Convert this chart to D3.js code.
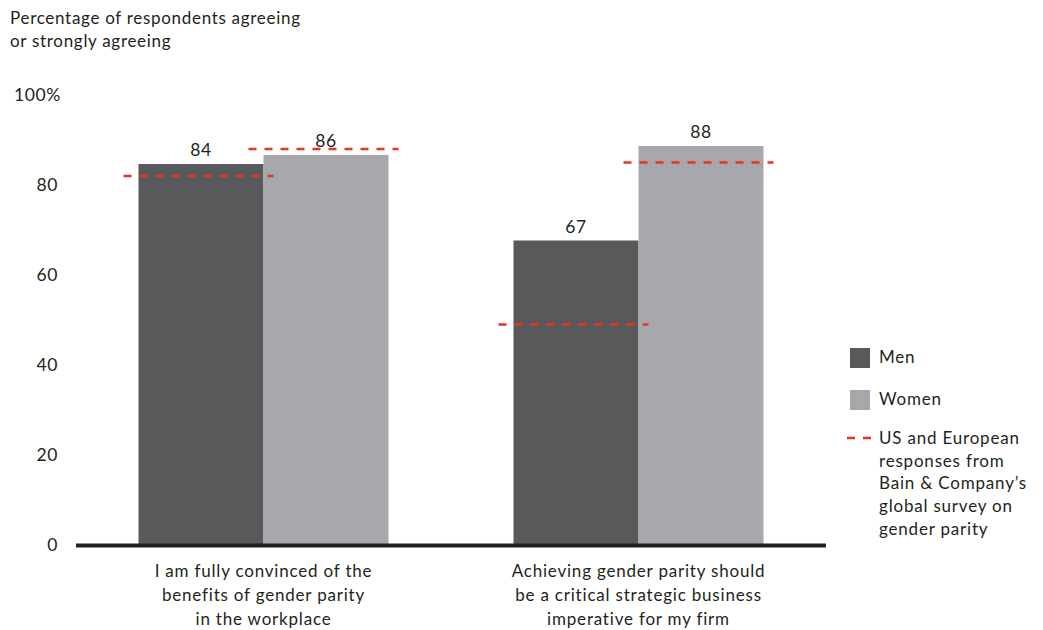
<!DOCTYPE html>
<html><head><meta charset="utf-8">
<script src="https://cdn.jsdelivr.net/npm/d3@7"></script>
<style>body{margin:0;background:#fff}svg{display:block}text{font-family:Lato,"Noto Sans",sans-serif;fill:#231f20}</style>
</head><body>
<script>
const categories = [
  ["I am fully convinced of the","benefits of gender parity","in the workplace"],
  ["Achieving gender parity should","be a critical strategic business","imperative for my firm"]
];
const categoryKeys = ["cat1","cat2"];
const seriesNames = ["Men","Women"];
const menValues = [84, 67];
const womenValues = [86, 88];
const benchmarkMen = [82, 49];
const benchmarkWomen = [88, 85];
const yTicks = [0,20,40,60,80,100];
const yTickLabels = ["0","20","40","60","80","100%"];
const titleLines = ["Percentage of respondents agreeing","or strongly agreeing"];
const legendBenchLines = ["US and European","responses from","Bain & Company\u2019s","global survey on","gender parity"];

const colors = {Men:"#58595b", Women:"#a7a8ab", red:"#ee3124"};
const W=1043,H=630;
const svg=d3.select("body").append("svg").attr("width",W).attr("height",H);

const y=d3.scaleLinear().domain([0,100]).range([545,95]);
const x=d3.scaleBand().domain(categoryKeys).range([76,826]).paddingInner(1/3).paddingOuter(1/6);
const xs=d3.scaleBand().domain(seriesNames).range([0,x.bandwidth()]);

// title
svg.append("text").attr("x",10).attr("y",24).style("font-size","17px").style("letter-spacing","0.7px")
  .selectAll("tspan").data(titleLines).join("tspan").attr("x",10).attr("dy",(d,i)=>i?23:0).text(d=>d);

// y tick labels
svg.append("g").selectAll("text").data(yTicks).join("text")
  .attr("x",(d,i)=>i===yTicks.length-1?61:58).attr("y",d=>y(d)).attr("dy","0.36em")
  .attr("text-anchor","end").style("font-size","17.5px").style("letter-spacing","0.6px").text((d,i)=>yTickLabels[i]);

// bars
const data = categoryKeys.map((k,i)=>({k, vals:[{s:"Men",v:menValues[i],b:benchmarkMen[i]},{s:"Women",v:womenValues[i],b:benchmarkWomen[i]}]}));
const g=svg.append("g").selectAll("g").data(data).join("g").attr("transform",d=>`translate(${x(d.k)},0)`);
g.selectAll("rect").data(d=>d.vals).join("rect")
  .attr("x",d=>xs(d.s)).attr("width",xs.bandwidth())
  .attr("y",d=>y(d.v)-3).attr("height",d=>y(0)-y(d.v)+3).attr("fill",d=>colors[d.s]);
g.selectAll("text.val").data(d=>d.vals).join("text").attr("class","val")
  .attr("x",d=>xs(d.s)+xs.bandwidth()/2).attr("y",d=>y(d.v)-11)
  .attr("text-anchor","middle").style("font-size","17.5px").style("letter-spacing","0.5px").text(d=>d.v);
g.selectAll("line.bench").data(d=>d.vals).join("line").attr("class","bench")
  .attr("x1",d=>xs(d.s)-15).attr("x2",d=>xs(d.s)+xs.bandwidth()+10)
  .attr("y1",d=>y(d.b)).attr("y2",d=>y(d.b))
  .attr("stroke",colors.red).attr("stroke-width",2.5).attr("stroke-dasharray","8,8");

// baseline
svg.append("line").attr("x1",76).attr("x2",826).attr("y1",y(0)+0.5).attr("y2",y(0)+0.5)
  .attr("stroke","#231f20").attr("stroke-width",4);

// category labels
svg.append("g").selectAll("text").data(categoryKeys).join("text")
  .attr("x",d=>x(d)+x.bandwidth()/2).attr("y",577).attr("text-anchor","middle")
  .style("font-size","17px").style("letter-spacing","0.8px")
  .each(function(d,i){
    d3.select(this).selectAll("tspan").data(categories[i]).join("tspan")
      .attr("x",x(d)+x.bandwidth()/2).attr("dy",(t,j)=>j?24:0).text(t=>t);
  });

// legend
const lg=svg.append("g").style("letter-spacing","0.8px");
seriesNames.forEach((s,i)=>{
  const yy=348+i*42;
  lg.append("rect").attr("x",850).attr("y",yy).attr("width",20).attr("height",20).attr("fill",colors[s]);
  lg.append("text").attr("x",879).attr("y",yy+15).style("font-size","17px").text(s);
});
lg.append("line").attr("x1",847).attr("x2",872).attr("y1",438).attr("y2",438)
  .attr("stroke",colors.red).attr("stroke-width",2.5).attr("stroke-dasharray","8,8");
lg.append("text").attr("x",879).attr("y",444).style("font-size","17px")
  .selectAll("tspan").data(legendBenchLines).join("tspan").attr("x",879).attr("dy",(d,i)=>i?22.7:0).text(d=>d);
</script>
</body></html>
